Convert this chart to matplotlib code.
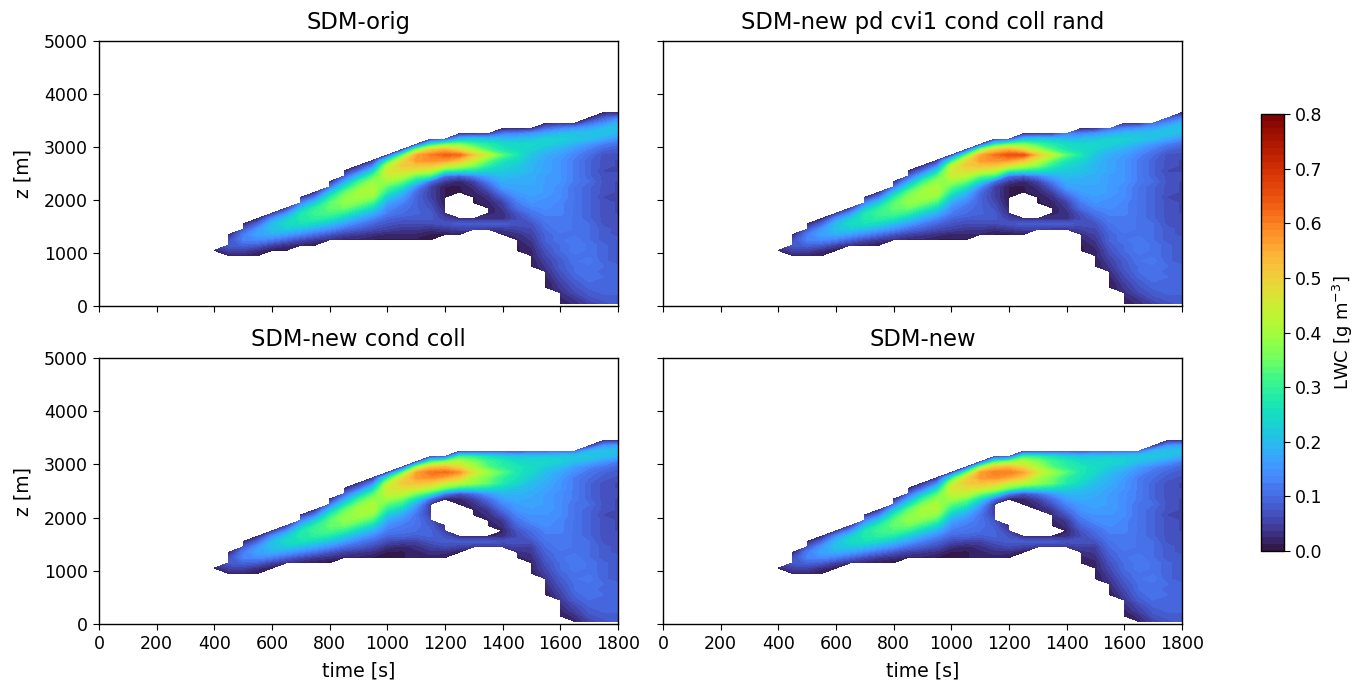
import numpy as np
import matplotlib
matplotlib.use('Agg')
import matplotlib.pyplot as plt

# grid of the model output
time_s = list(range(400, 1801, 50))
z_m = list(range(50, 3651, 100))

titles = ['SDM-orig', 'SDM-new pd cvi1 cond coll rand', 'SDM-new cond coll', 'SDM-new']

# first z index of each column and LWC in 0.01 g/m3, one list per time
start_top = [9, 9, 9, 9, 10, 10, 11, 11, 12, 12, 12, 12, 12, 12, 12, 12, 12, 13, 14, 14, 13, 10, 7, 3, 0, 0, 0, 0, 0]
lwc_top = [
    [1, 2, 1],
    [2, 5, 8, 6, 2],
    [2, 5, 9, 13, 12, 7, 2],
    [1, 3, 8, 14, 17, 15, 9, 2],
    [1, 5, 12, 18, 21, 20, 14, 4],
    [1, 3, 9, 16, 22, 25, 22, 14, 4],
    [2, 6, 13, 20, 26, 28, 27, 20, 12, 3],
    [1, 4, 10, 17, 24, 29, 31, 29, 22, 12, 3],
    [3, 7, 14, 20, 27, 32, 34, 33, 28, 20, 10, 2],
    [2, 5, 10, 16, 22, 29, 35, 38, 37, 33, 25, 16, 8, 2],
    [2, 4, 8, 12, 17, 23, 30, 36, 40, 40, 36, 30, 20, 10, 3],
    [1, 3, 6, 9, 13, 18, 24, 31, 37, 41, 41, 38, 32, 23, 12, 3],
    [1, 2, 5, 7, 9, 12, 14, 17, 22, 28, 33, 39, 44, 46, 41, 26, 4],
    [1, 2, 4, 6, 8, 10, 11, 13, 16, 20, 27, 34, 42, 47, 51, 47, 31, 4],
    [1, 2, 4, 6, 8, 9, 9, 9, 9, 10, 14, 24, 33, 45, 52, 57, 55, 36, 5],
    [1, 1, 3, 6, 8, 8, 7, 6, 5, 5, 5, 10, 30, 42, 51, 58, 60, 50, 27, 4],
    [1, 1, 4, 7, 5, 3, 2, 1, 1, 1, 1, 4, 10, 30, 46, 57, 63, 54, 34, 7],
    [1, 5, 8, 3, 2, 1, 1, 1, 1, 1, 2, 8, 27, 42, 52, 62, 48, 36, 20, 3],
    [5, 8, 3, 2, 1, 1, 1, 2, 3, 5, 12, 26, 36, 44, 51, 40, 31, 22, 4],
    [4, 8, 3, 2, 1, 2, 3, 5, 8, 12, 17, 23, 29, 34, 43, 32, 28, 21, 5],
    [2, 4, 8, 3, 3, 4, 5, 8, 12, 16, 18, 20, 22, 24, 27, 33, 27, 25, 20, 12, 2],
    [1, 1, 2, 3, 5, 7, 6, 7, 10, 12, 14, 16, 17, 18, 19, 21, 22, 24, 27, 25, 24, 20, 13, 2],
    [1, 1, 2, 2, 3, 4, 5, 6, 7, 9, 11, 13, 15, 16, 17, 17, 18, 18, 19, 19, 20, 21, 23, 24, 21, 15, 3],
    [1, 1, 2, 3, 4, 5, 6, 7, 8, 9, 9, 10, 11, 12, 13, 14, 15, 15, 16, 16, 16, 16, 17, 17, 17, 18, 20, 23, 23, 18, 10, 2],
    [1, 2, 3, 4, 5, 6, 7, 8, 8, 9, 10, 10, 11, 11, 12, 12, 12, 13, 13, 13, 14, 14, 14, 15, 15, 15, 15, 15, 16, 18, 21, 23, 20, 13, 3],
    [3, 4, 6, 7, 8, 9, 10, 10, 11, 11, 12, 12, 12, 11, 11, 11, 11, 11, 11, 11, 11, 11, 11, 12, 12, 12, 12, 12, 13, 15, 18, 22, 21, 15, 3],
    [5, 7, 8, 9, 10, 11, 11, 11, 12, 11, 11, 11, 10, 10, 10, 10, 9, 9, 9, 9, 9, 9, 9, 10, 9, 9, 9, 9, 10, 12, 15, 20, 21, 17, 10, 2],
    [7, 8, 9, 9, 9, 10, 9, 10, 9, 9, 9, 9, 8, 8, 8, 7, 7, 7, 7, 7, 6, 7, 7, 7, 7, 6, 7, 7, 7, 9, 12, 17, 21, 20, 14, 8, 2],
    [8, 8, 9, 9, 9, 9, 9, 9, 8, 8, 8, 8, 8, 7, 7, 7, 7, 6, 6, 6, 6, 6, 6, 6, 7, 6, 6, 6, 7, 8, 10, 14, 19, 21, 19, 12, 2],
]

start_bottom = start_top[:12] + [12, 12, 12, 12, 12, 13, 14, 14, 14, 11, 8, 5, 1, 0, 0, 0, 0]
lwc_bottom = lwc_top[:12] + [
    [1, 1, 3, 6, 9, 12, 14, 17, 22, 28, 33, 39, 44, 46, 41, 27, 4],
    [1, 1, 2, 5, 9, 11, 12, 14, 17, 22, 29, 35, 43, 47, 51, 47, 31, 4],
    [2, 2, 3, 5, 8, 10, 11, 11, 11, 13, 17, 25, 35, 46, 52, 57, 56, 37, 5],
    [2, 3, 5, 7, 9, 9, 8, 7, 5, 4, 4, 10, 28, 42, 50, 58, 60, 51, 31, 5],
    [1, 3, 6, 8, 7, 5, 3, 1, 1, 1, 1, 2, 12, 34, 44, 55, 62, 53, 37, 7],
    [1, 5, 8, 3, 1, 1, 1, 1, 1, 1, 2, 7, 27, 42, 50, 58, 48, 42, 30, 4],
    [4, 8, 2, 1, 1, 1, 1, 2, 3, 5, 10, 26, 38, 40, 46, 40, 37, 29, 5],
    [4, 8, 2, 1, 1, 2, 3, 4, 7, 10, 15, 25, 34, 35, 39, 33, 31, 26, 6],
    [4, 7, 3, 2, 3, 4, 7, 10, 13, 16, 19, 23, 28, 29, 33, 29, 28, 23, 7],
    [1, 2, 3, 5, 7, 6, 7, 9, 11, 13, 15, 16, 18, 19, 21, 24, 26, 27, 27, 25, 21, 7],
    [1, 1, 2, 2, 3, 4, 5, 7, 9, 10, 12, 14, 15, 16, 17, 17, 18, 19, 20, 22, 24, 25, 24, 22, 8],
    [1, 2, 3, 4, 5, 6, 7, 8, 9, 10, 11, 12, 13, 14, 15, 15, 16, 16, 16, 16, 17, 18, 19, 20, 22, 24, 22, 9],
    [1, 2, 3, 4, 5, 6, 7, 8, 9, 10, 10, 11, 11, 12, 12, 12, 13, 13, 13, 14, 14, 14, 14, 14, 15, 15, 16, 17, 20, 23, 22, 10],
    [2, 3, 5, 6, 8, 9, 10, 10, 11, 11, 12, 12, 12, 11, 11, 11, 11, 11, 11, 11, 11, 11, 11, 12, 12, 12, 12, 12, 14, 16, 20, 22, 10],
    [5, 7, 8, 9, 10, 11, 11, 11, 12, 11, 11, 11, 10, 10, 10, 10, 9, 9, 9, 9, 9, 9, 10, 9, 9, 9, 9, 10, 11, 13, 18, 22, 19, 4],
    [7, 8, 9, 9, 9, 10, 9, 10, 9, 9, 9, 9, 8, 8, 8, 7, 7, 7, 7, 7, 6, 7, 7, 7, 7, 7, 7, 8, 9, 11, 15, 20, 21, 15, 3],
    [8, 8, 9, 9, 9, 9, 9, 9, 8, 8, 8, 8, 8, 7, 7, 7, 7, 6, 6, 6, 6, 6, 6, 6, 7, 6, 6, 7, 8, 9, 12, 18, 21, 17, 3],
]

# LWC at z=2850 m for t=1150, 1200, 1250 in each panel
peak_core = [[60, 63, 62], [61, 65, 65], [61, 62, 58], [60, 60, 56]]

# highest and lowest cloudy level per time
top_orig = [1050, 1350, 1550, 1650, 1750, 1850, 2050, 2150, 2350, 2550, 2650, 2750, 2850, 2950, 3050, 3150, 3150,
            3250, 3250, 3250, 3350, 3350, 3350, 3450, 3450, 3450, 3550, 3650, 3650]
top_rand = [1050, 1350, 1550, 1650, 1750, 1850, 2050, 2150, 2350, 2550, 2650, 2750, 2850, 2950, 3050, 3150, 3150,
            3250, 3250, 3250, 3250, 3350, 3350, 3350, 3450, 3450, 3450, 3550, 3650]
top_cond = [1050, 1350, 1550, 1650, 1750, 1850, 2050, 2150, 2350, 2550, 2650, 2750, 2850, 2950, 3050, 3150, 3150,
            3250, 3250, 3250, 3250, 3250, 3250, 3250, 3250, 3250, 3350, 3450, 3450]
bottom_orig = [1050, 950, 950, 950, 1050, 1050, 1150, 1150, 1250, 1250, 1250, 1250, 1250, 1250, 1250, 1250, 1350,
               1350, 1450, 1450, 1350, 1050, 750, 350, 50, 50, 50, 50, 50]
bottom_rand = [1050, 950, 950, 950, 1050, 1150, 1150, 1150, 1250, 1250, 1250, 1250, 1250, 1250, 1350, 1350, 1350,
               1350, 1450, 1450, 1450, 1050, 750, 350, 50, 50, 50, 50, 50]
bottom_cond = [1050, 950, 950, 950, 1050, 1150, 1150, 1150, 1150, 1250, 1250, 1250, 1250, 1250, 1250, 1250, 1250,
               1350, 1450, 1450, 1450, 1250, 950, 550, 150, 50, 50, 50, 50]
bottom_new = [1050, 950, 950, 950, 1050, 1150, 1150, 1150, 1150, 1250, 1250, 1250, 1250, 1250, 1250, 1250, 1250,
              1350, 1450, 1450, 1450, 1150, 850, 550, 150, 50, 50, 50, 50]

# cloud free pocket below the maximum: time, lowest z, highest z
hole_orig = [(1250, 1750, 2050), (1300, 1750, 1850)]
hole_cond = [(1200, 1950, 2250), (1250, 1750, 2150), (1300, 1750, 1950), (1350, 1750, 1750)]
hole_new = [(1200, 1950, 2250), (1250, 1750, 2150), (1300, 1750, 2050), (1350, 1750, 1750)]

tops = [top_orig, top_rand, top_cond, top_cond]
bottoms = [bottom_orig, bottom_rand, bottom_cond, bottom_new]
holes = [hole_orig, hole_orig, hole_cond, hole_new]

W, H = 1355, 684
plt.rcParams['font.size'] = 12.5
plt.rcParams['axes.linewidth'] = 1.0
plt.rcParams['xtick.major.size'] = 4.5
plt.rcParams['ytick.major.size'] = 4.5


def build_field(starts, cols, top, bottom, hole, core):
    field = np.zeros((len(z_m), len(time_s)))
    for j, col in enumerate(cols):
        field[starts[j]:starts[j] + len(col), j] = col
    field = field / 100.0
    k = z_m.index(2850)
    for t, v in zip([1150, 1200, 1250], core):
        field[k, time_s.index(t)] = v / 100.0
    zz = np.array(z_m)
    mask = np.zeros(field.shape, dtype=bool)
    for j in range(len(time_s)):
        mask[:, j] = (zz > top[j]) | (zz < bottom[j])
    for t, lo, hi in hole:
        mask[:, time_s.index(t)] |= (zz >= lo) & (zz <= hi)
    return np.ma.masked_array(field, mask)


def px_axes(fig, x0, y0, x1, y1):
    return fig.add_axes([x0 / W, 1 - y1 / H, (x1 - x0) / W, (y1 - y0) / H])


fig = plt.figure(figsize=(W / 100, H / 100), dpi=100)
boxes = [(99, 41, 618, 306), (663, 41, 1182, 306), (99, 358, 618, 624), (663, 358, 1182, 624)]
levels = np.linspace(0, 0.8, 65)

for i, box in enumerate(boxes):
    ax = px_axes(fig, *box)
    if i < 2:
        field = build_field(start_top, lwc_top, tops[i], bottoms[i], holes[i], peak_core[i])
    else:
        field = build_field(start_bottom, lwc_bottom, tops[i], bottoms[i], holes[i], peak_core[i])
    cs = ax.contourf(time_s, z_m, field, levels=levels, cmap='turbo', vmin=0, vmax=0.8)
    ax.set_xlim(0, 1800)
    ax.set_ylim(0, 5000)
    ax.set_xticks(range(0, 1801, 200))
    ax.set_yticks(range(0, 5001, 1000))
    ax.set_title(titles[i], fontsize=16.3, pad=8.5)
    if i >= 2:
        ax.set_xlabel('time [s]', fontsize=13.6, labelpad=6)
    else:
        ax.set_xticklabels([])
    if i % 2 == 0:
        ax.set_ylabel('z [m]', fontsize=13.6, labelpad=8.5)
    else:
        ax.set_yticklabels([])

cax = px_axes(fig, 1261, 114, 1284, 551)
cbar = fig.colorbar(cs, cax=cax, ticks=np.arange(0, 0.81, 0.1))
cbar.set_label('LWC [g m$^{-3}$]', fontsize=13, labelpad=6)

fig.savefig('out.png', dpi=100)
